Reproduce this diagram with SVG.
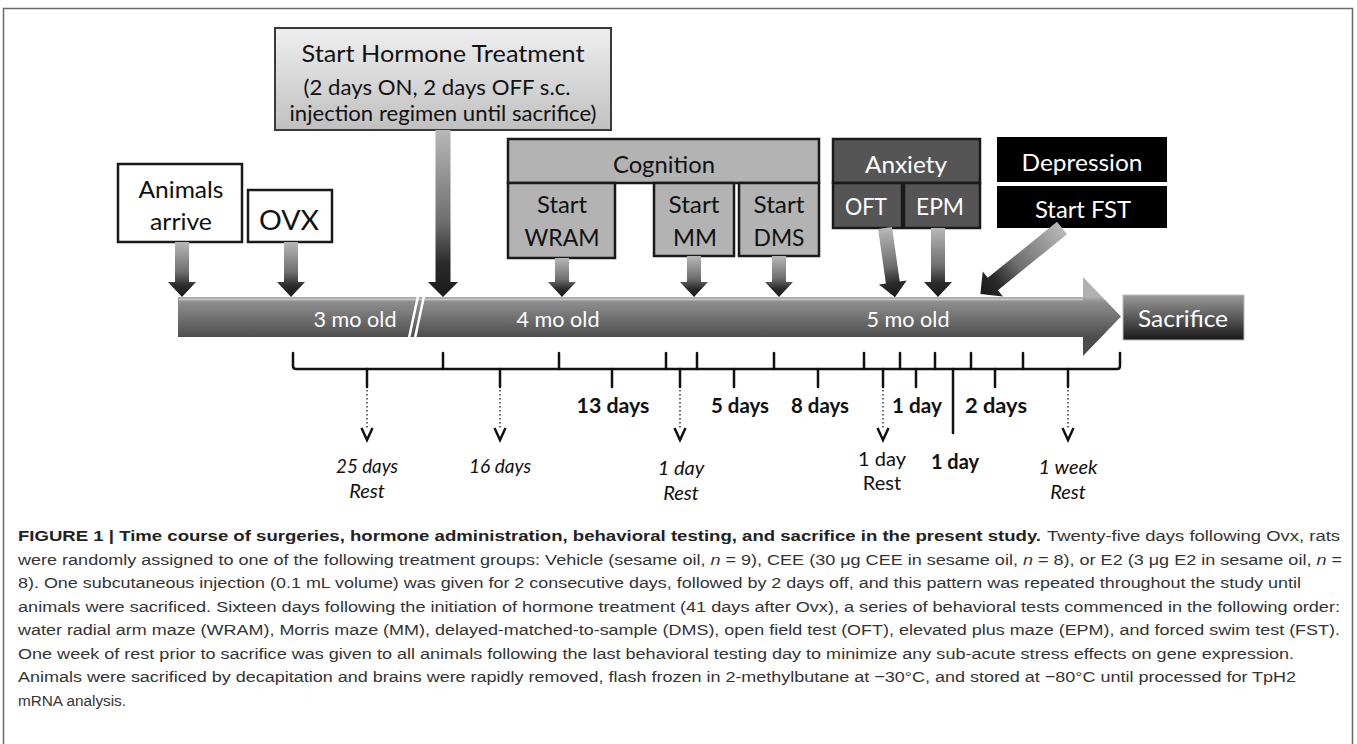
<svg xmlns="http://www.w3.org/2000/svg" width="1357" height="744" viewBox="0 0 1357 744">
<defs>
<style>
.lb{font-family:Lato,"Open Sans","Liberation Sans",sans-serif;text-anchor:middle}
.dk{fill:#111}
.wt{fill:#fff}
.bx{stroke:#1a1a1a;stroke-width:2.5}
.brk{fill:none;stroke:#111;stroke-width:2.5;stroke-linejoin:round;stroke-linecap:round}
.dot{stroke:#444;stroke-width:1.6;stroke-dasharray:1.5 2.5}
.chev{fill:none;stroke:#111;stroke-width:2.5;stroke-linejoin:miter}
.cap{font-family:"Liberation Sans",Arial,sans-serif;font-size:15.5px;fill:#333}
.capb{font-family:"Liberation Sans",Arial,sans-serif;font-size:15.5px;font-weight:bold;fill:#222}
.ar{fill:url(#gArrow)}
</style>
<linearGradient id="gArrow" x1="0" y1="0" x2="0" y2="1">
<stop offset="0" stop-color="#b8b8b8"/>
<stop offset="0.55" stop-color="#6e6e6e"/>
<stop offset="0.8" stop-color="#2a2a2a"/>
<stop offset="1" stop-color="#1a1a1a"/>
</linearGradient>
<linearGradient id="gBar" gradientUnits="userSpaceOnUse" x1="0" y1="297" x2="0" y2="338">
<stop offset="0" stop-color="#b0b0b0"/>
<stop offset="0.12" stop-color="#8e8e8e"/>
<stop offset="1" stop-color="#4c4c4c"/>
</linearGradient>
<linearGradient id="gSac" x1="0" y1="0" x2="0" y2="1">
<stop offset="0" stop-color="#9a9a9a"/>
<stop offset="1" stop-color="#181818"/>
</linearGradient>
<linearGradient id="gHorm" x1="0" y1="0" x2="0" y2="1">
<stop offset="0" stop-color="#efefef"/>
<stop offset="1" stop-color="#c0c0c0"/>
</linearGradient>
</defs>
<rect width="1357" height="744" fill="#fff"/>
<path d="M3.5,744 V8.5 H1352.5 V744" fill="none" stroke="#6a6a6a" stroke-width="1.5"/>

<g id="timeline">
<path d="M178,297 H1083 V277 L1121,316.5 L1083,356 V337 H178 Z" fill="url(#gBar)"/>
<line x1="179" y1="299.5" x2="1083" y2="299.5" stroke="#c8c8c8" stroke-width="1.5"/>
<line x1="418" y1="296" x2="409" y2="338" stroke="#fff" stroke-width="2.5"/>
<line x1="424" y1="296" x2="415" y2="338" stroke="#fff" stroke-width="2.5"/>
<text class="lb wt" x="355" y="327" font-size="21" textLength="83" lengthAdjust="spacingAndGlyphs">3 mo old</text>
<text class="lb wt" x="558" y="327" font-size="21" textLength="83" lengthAdjust="spacingAndGlyphs">4 mo old</text>
<text class="lb wt" x="908" y="327" font-size="21" textLength="83" lengthAdjust="spacingAndGlyphs">5 mo old</text>
</g>

<g id="hormone">
<rect x="275" y="28" width="336" height="102" fill="url(#gHorm)" stroke="#3a3a3a" stroke-width="2"/>
<text class="lb dk" x="443" y="62" font-size="24" textLength="283" lengthAdjust="spacingAndGlyphs">Start Hormone Treatment</text>
<text class="lb dk" x="437" y="95" font-size="22" textLength="267" lengthAdjust="spacingAndGlyphs">(2 days ON, 2 days OFF s.c.</text>
<text class="lb dk" x="443" y="121" font-size="22" textLength="307" lengthAdjust="spacingAndGlyphs">injection regimen until sacrifice)</text>
</g>

<g id="animals">
<rect x="118" y="164" width="124" height="78" fill="#fff" class="bx"/>
<text class="lb dk" x="181" y="198" font-size="24" textLength="85" lengthAdjust="spacingAndGlyphs">Animals</text>
<text class="lb dk" x="181" y="230" font-size="24" textLength="62" lengthAdjust="spacingAndGlyphs">arrive</text>
</g>

<g id="ovx">
<rect x="248" y="190" width="84" height="52" fill="#fff" class="bx"/>
<text class="lb dk" x="289" y="230" font-size="26" textLength="60" lengthAdjust="spacingAndGlyphs">OVX</text>
</g>

<g id="cognition">
<rect x="508" y="139" width="311" height="44" fill="#b3b3b3" class="bx"/>
<text class="lb dk" x="664" y="173" font-size="24" textLength="102" lengthAdjust="spacingAndGlyphs">Cognition</text>
</g>
<g id="wram">
<rect x="508" y="183" width="107" height="75" fill="#b3b3b3" class="bx"/>
<text class="lb dk" x="562" y="213" font-size="24" textLength="50" lengthAdjust="spacingAndGlyphs">Start</text>
<text class="lb dk" x="562" y="246" font-size="24" textLength="75" lengthAdjust="spacingAndGlyphs">WRAM</text>
</g>
<g id="mm">
<rect x="654" y="183" width="80" height="73" fill="#b3b3b3" class="bx"/>
<text class="lb dk" x="694" y="213" font-size="24" textLength="51" lengthAdjust="spacingAndGlyphs">Start</text>
<text class="lb dk" x="695" y="246" font-size="24" textLength="44" lengthAdjust="spacingAndGlyphs">MM</text>
</g>
<g id="dms">
<rect x="739" y="183" width="80" height="73" fill="#b3b3b3" class="bx"/>
<text class="lb dk" x="779" y="213" font-size="24" textLength="51" lengthAdjust="spacingAndGlyphs">Start</text>
<text class="lb dk" x="779" y="246" font-size="24" textLength="51" lengthAdjust="spacingAndGlyphs">DMS</text>
</g>

<g id="anxiety">
<rect x="833" y="139" width="147" height="44" fill="#555" class="bx"/>
<text class="lb wt" x="906" y="173" font-size="24" textLength="82" lengthAdjust="spacingAndGlyphs">Anxiety</text>
</g>
<g id="oft">
<rect x="833" y="183" width="69" height="45" fill="#555" class="bx"/>
<text class="lb wt" x="866" y="215" font-size="24" textLength="42" lengthAdjust="spacingAndGlyphs">OFT</text>
</g>
<g id="epm">
<rect x="904" y="183" width="76" height="45" fill="#555" class="bx"/>
<text class="lb wt" x="940" y="215" font-size="24" textLength="48" lengthAdjust="spacingAndGlyphs">EPM</text>
</g>

<g id="depression">
<rect x="997" y="137" width="170" height="45" fill="#000"/>
<text class="lb wt" x="1082" y="171" font-size="24" textLength="121" lengthAdjust="spacingAndGlyphs">Depression</text>
</g>
<g id="fst">
<rect x="997" y="186" width="170" height="42" fill="#000"/>
<text class="lb wt" x="1083" y="218" font-size="24" textLength="96" lengthAdjust="spacingAndGlyphs">Start FST</text>
</g>

<g id="sacrifice">
<rect x="1123" y="295" width="121" height="45" fill="url(#gSac)" stroke="#bbb" stroke-width="1"/>
<text class="lb wt" x="1183" y="327" font-size="23" textLength="90" lengthAdjust="spacingAndGlyphs">Sacrifice</text>
</g>

<g id="connectors">
<path class="ar" transform="translate(182,242)" d="M-7,0H7V40H14L0,55L-14,40H-7Z"/>
<path class="ar" transform="translate(291,242)" d="M-7,0H7V40H14L0,55L-14,40H-7Z"/>
<path class="ar" transform="translate(443,130)" d="M-7.5,0H7.5V152H15L0,167L-15,152H-7.5Z"/>
<path class="ar" transform="translate(562,258)" d="M-7,0H7V24H14L0,39L-14,24H-7Z"/>
<path class="ar" transform="translate(694,256)" d="M-7,0H7V26H14L0,41L-14,26H-7Z"/>
<path class="ar" transform="translate(779,256)" d="M-7,0H7V26H14L0,41L-14,26H-7Z"/>
<path class="ar" transform="translate(885,228) rotate(-8.2)" d="M-7,0H7V55H14L0,70L-14,55H-7Z"/>
<path class="ar" transform="translate(938,228)" d="M-7,0H7V54H14L0,69L-14,54H-7Z"/>
<path class="ar" transform="translate(1062,228) rotate(51)" d="M-8,0H8V89H16L0,105L-16,89H-8Z"/>

<path class="brk" d="M293,353 V366 Q293,369 296,369 H1117 Q1120,369 1120,366 V353"/>
<path class="brk" d="M443,353V369 M559,353V369 M666,353V369 M697,353V369 M774,353V369 M864,353V369 M900,353V369 M935,353V369 M971,353V369 M1023,353V369"/>
<path class="brk" d="M367,369V387 M500,369V387 M612,369V387 M680,369V387 M734,369V387 M818,369V387 M883,369V387 M916,369V387 M995,369V387 M1068,369V387 M953,369V433"/>
<path class="dot" d="M367,390V428 M500,390V428 M680,390V428 M883,390V428 M1068,390V428"/>
<path class="chev" d="M361.5,428 L367,440 L372.5,428 M494.5,428 L500,440 L505.5,428 M674.5,428 L680,440 L685.5,428 M877.5,428 L883,440 L888.5,428 M1062.5,428 L1068,440 L1073.5,428"/>
</g>

<g id="durations">
<text class="lb dk" x="613" y="413" font-size="20" font-weight="bold" textLength="73" lengthAdjust="spacingAndGlyphs">13 days</text>
<text class="lb dk" x="740" y="413" font-size="20" font-weight="bold" textLength="58" lengthAdjust="spacingAndGlyphs">5 days</text>
<text class="lb dk" x="820" y="413" font-size="20" font-weight="bold" textLength="58" lengthAdjust="spacingAndGlyphs">8 days</text>
<text class="lb dk" x="917" y="413" font-size="20" font-weight="bold" textLength="50" lengthAdjust="spacingAndGlyphs">1 day</text>
<text class="lb dk" x="996" y="413" font-size="20" font-weight="bold" textLength="62" lengthAdjust="spacingAndGlyphs">2 days</text>
<text class="lb dk" x="367" y="473" font-size="20" font-style="italic" textLength="62" lengthAdjust="spacingAndGlyphs">25 days</text>
<text class="lb dk" x="367" y="498" font-size="20" font-style="italic">Rest</text>
<text class="lb dk" x="500" y="473" font-size="20" font-style="italic" textLength="62" lengthAdjust="spacingAndGlyphs">16 days</text>
<text class="lb dk" x="681" y="475" font-size="20" font-style="italic">1 day</text>
<text class="lb dk" x="681" y="500" font-size="20" font-style="italic">Rest</text>
<text class="lb dk" x="882" y="466" font-size="20">1 day</text>
<text class="lb dk" x="882" y="490" font-size="20">Rest</text>
<text class="lb dk" x="955" y="469" font-size="20" font-weight="bold">1 day</text>
<text class="lb dk" x="1068" y="474" font-size="20" font-style="italic">1 week</text>
<text class="lb dk" x="1068" y="499" font-size="20" font-style="italic">Rest</text>
</g>

<g id="caption">
<text class="capb" x="18" y="541" textLength="1023" lengthAdjust="spacingAndGlyphs">FIGURE 1 | Time course of surgeries, hormone administration, behavioral testing, and sacrifice in the present study.</text>
<text class="cap" x="1047" y="541" textLength="293" lengthAdjust="spacingAndGlyphs">Twenty-five days following Ovx, rats</text>
<text class="cap" x="18" y="564.5" textLength="1324" lengthAdjust="spacingAndGlyphs">were randomly assigned to one of the following treatment groups: Vehicle (sesame oil, <tspan font-style="italic">n</tspan> = 9), CEE (30 μg CEE in sesame oil, <tspan font-style="italic">n</tspan> = 8), or E2 (3 μg E2 in sesame oil, <tspan font-style="italic">n</tspan> =</text>
<text class="cap" x="18" y="588" textLength="1283" lengthAdjust="spacingAndGlyphs">8). One subcutaneous injection (0.1 mL volume) was given for 2 consecutive days, followed by 2 days off, and this pattern was repeated throughout the study until</text>
<text class="cap" x="18" y="611.5" textLength="1322" lengthAdjust="spacingAndGlyphs">animals were sacrificed. Sixteen days following the initiation of hormone treatment (41 days after Ovx), a series of behavioral tests commenced in the following order:</text>
<text class="cap" x="18" y="635" textLength="1322" lengthAdjust="spacingAndGlyphs">water radial arm maze (WRAM), Morris maze (MM), delayed-matched-to-sample (DMS), open field test (OFT), elevated plus maze (EPM), and forced swim test (FST).</text>
<text class="cap" x="18" y="658.5" textLength="1276" lengthAdjust="spacingAndGlyphs">One week of rest prior to sacrifice was given to all animals following the last behavioral testing day to minimize any sub-acute stress effects on gene expression.</text>
<text class="cap" x="18" y="682" textLength="1278" lengthAdjust="spacingAndGlyphs">Animals were sacrificed by decapitation and brains were rapidly removed, flash frozen in 2-methylbutane at −30°C, and stored at −80°C until processed for TpH2</text>
<text class="cap" x="18" y="705.5" textLength="108" lengthAdjust="spacingAndGlyphs">mRNA analysis.</text>
</g>
</svg>
